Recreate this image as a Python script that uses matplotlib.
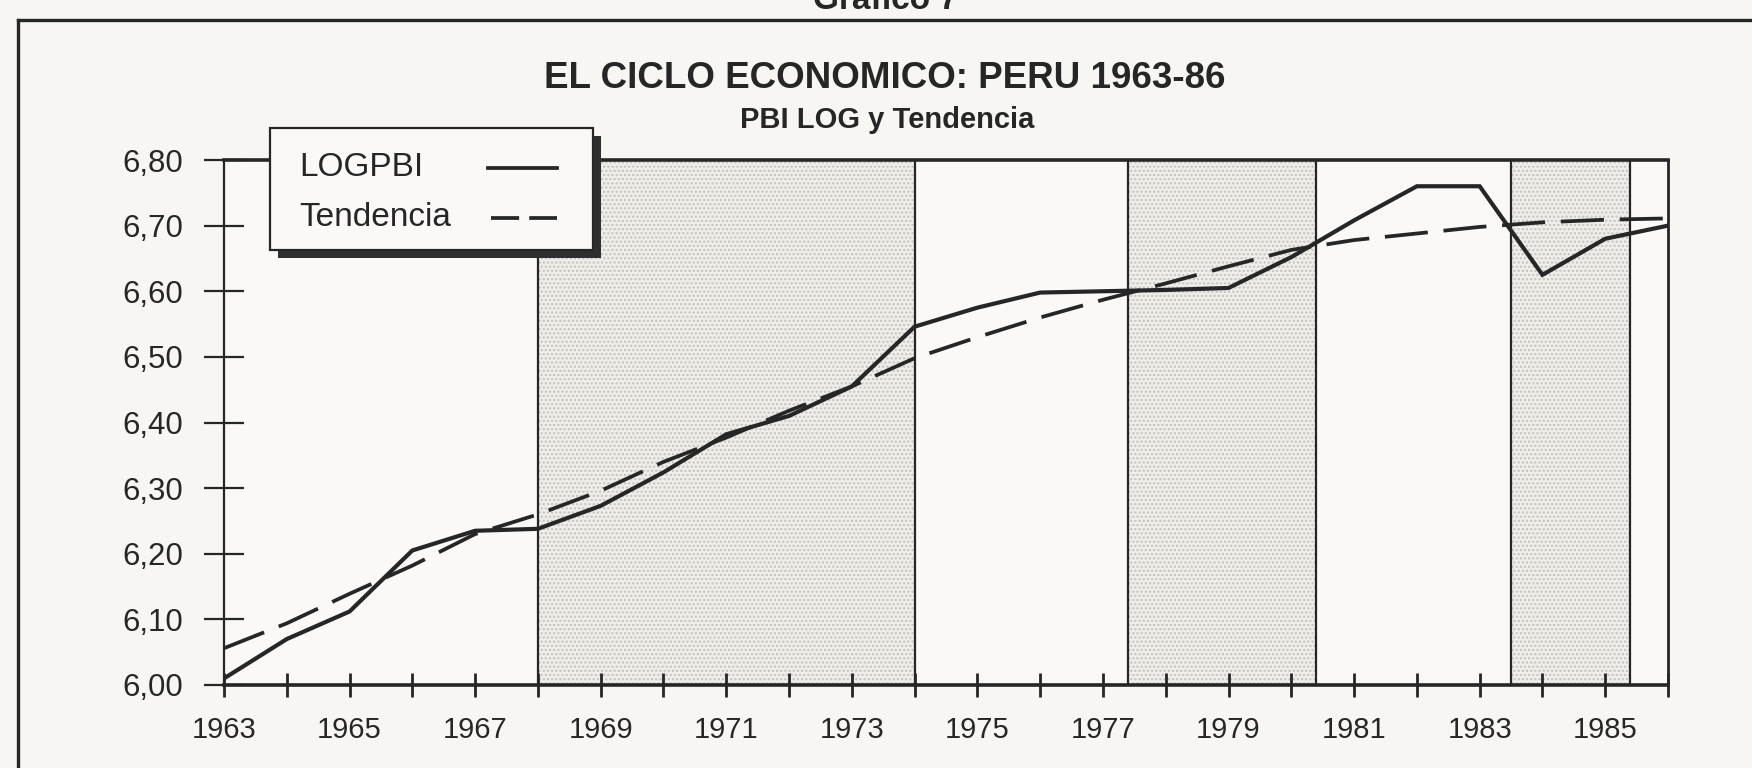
import matplotlib
matplotlib.use('Agg')
import matplotlib.pyplot as plt
from matplotlib.lines import Line2D
from matplotlib.patches import Rectangle
from matplotlib.transforms import Affine2D

# Data
years = list(range(1963, 1987))
logpbi = [6.010, 6.070, 6.112, 6.205, 6.235, 6.238, 6.273, 6.324, 6.382, 6.410,
          6.455, 6.546, 6.575, 6.598, 6.600, 6.602, 6.605, 6.652, 6.708, 6.760,
          6.760, 6.625, 6.680, 6.700]
tendencia = [6.056, 6.094, 6.139, 6.182, 6.230, 6.260, 6.296, 6.340, 6.377, 6.418,
             6.455, 6.498, 6.530, 6.560, 6.587, 6.612, 6.638, 6.663, 6.678, 6.688,
             6.698, 6.705, 6.709, 6.711]
shaded = [(1968, 1974), (1977.4, 1980.4), (1983.5, 1985.4)]
borders = [1968, 1974, 1977.4, 1980.4, 1983.5, 1985.4]
yticks = [6.0, 6.1, 6.2, 6.3, 6.4, 6.5, 6.6, 6.7, 6.8]
year_labels = [str(y) if y % 2 == 1 and y < 1986 else '' for y in years]
series_names = ['LOGPBI', 'Tendencia']

INK = '#262626'
BG = '#f7f6f3'
PAPER = '#faf9f7'

plt.rcParams['font.family'] = ['Liberation Sans', 'DejaVu Sans']
plt.rcParams['hatch.linewidth'] = 1.1

W, H = 1752, 768
fig = plt.figure(figsize=(W / 100, H / 100), dpi=100, facecolor=BG)
# pixel coordinates measured from the top-left corner
pix = Affine2D().scale(1 / W, -1 / H).translate(0, 1) + fig.transFigure

# outer frame of the page box
fig.add_artist(Line2D([18, W], [20, 20], transform=pix, color=INK, lw=2.4))
fig.add_artist(Line2D([18, 18], [20, H], transform=pix, color=INK, lw=2.4))

fig.text(885, 9, 'Gráfico 7', transform=pix, ha='center', va='baseline',
         fontsize=24, weight='bold', color=INK)
fig.text(885, 88, 'EL CICLO ECONOMICO: PERU 1963-86', transform=pix, ha='center',
         va='baseline', fontsize=26.5, weight='bold', color=INK)
fig.text(887, 128, 'PBI LOG y Tendencia', transform=pix, ha='center', va='baseline',
         fontsize=21, weight='bold', color=INK)

ax = fig.add_axes([224 / W, 1 - 685 / H, (1668 - 224) / W, (685 - 160) / H])
ax.set_facecolor(PAPER)

for x0, x1 in shaded:
    ax.axvspan(x0, x1, facecolor='#efeeea', edgecolor='#c6c3be', hatch='....', lw=0, zorder=0)
for x in borders:
    ax.axvline(x, color=INK, lw=1.6, zorder=1)

ax.plot(years, logpbi, color=INK, lw=3.0, solid_joinstyle='miter', zorder=3)
ax.plot(years, tendencia, color=INK, lw=2.7, dashes=(11.5, 4.2), zorder=3)

ax.set_xlim(1963, 1986)
ax.set_ylim(6.0, 6.8)
ax.set_yticks(yticks)
ax.set_yticklabels([f'{v:.2f}'.replace('.', ',') for v in yticks])
ax.set_xticks(years)
ax.set_xticklabels(year_labels)

ax.tick_params(axis='y', direction='inout', length=29, width=1.6, pad=15,
               labelsize=22.5, colors=INK)
ax.tick_params(axis='x', direction='inout', length=17, width=2.0, pad=14,
               labelsize=21, colors=INK)

ax.spines['left'].set_linewidth(1.6)
ax.spines['bottom'].set_linewidth(2.6)
ax.spines['top'].set_linewidth(2.6)
ax.spines['right'].set_linewidth(2.0)
for s in ax.spines.values():
    s.set_color(INK)
    s.set_zorder(4)

# legend box: labels on the left, line samples on the right, drop shadow
fig.add_artist(Rectangle((278, 136), 323, 122, transform=pix, facecolor='#2e2e2e',
                         edgecolor='none', zorder=5))
fig.add_artist(Rectangle((270, 128), 323, 122, transform=pix, facecolor=PAPER,
                         edgecolor=INK, lw=1.6, zorder=6))
for name, yc in zip(series_names, [168, 218]):
    fig.text(299, yc, name, transform=pix, ha='left', va='center', fontsize=24,
             color=INK, zorder=7)
fig.add_artist(Line2D([488, 557], [168, 168], transform=pix, color=INK, lw=2.7, zorder=7))
fig.add_artist(Line2D([491, 557], [218, 218], transform=pix, color=INK, lw=2.7,
                      dashes=(7.5, 2.7), zorder=7))

fig.savefig('out.png', dpi=100, facecolor=BG)
